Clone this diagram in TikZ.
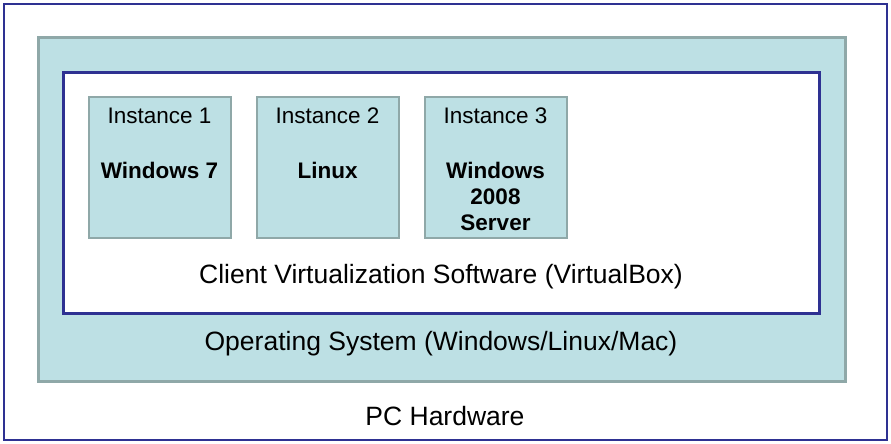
\documentclass[tikz,border=0pt]{standalone}
\usepackage{fontspec}
\setmainfont{Liberation Sans}
\definecolor{hwblue}{RGB}{46,49,146}
\definecolor{tealfill}{RGB}{189,224,228}
\definecolor{tealedge}{RGB}{143,168,168}
\begin{document}
\begin{tikzpicture}[x=1pt,y=-1pt,
  bluebox/.style={draw=hwblue,fill=white,line width=3pt,rectangle,inner sep=0pt},
  tealbox/.style={draw=tealedge,fill=tealfill,line width=3pt,rectangle,inner sep=0pt},
  lbl/.style={font=\fontsize{26.5}{30}\selectfont,anchor=center,inner sep=0pt},
  ilbl/.style={font=\fontsize{22.5}{26}\selectfont,anchor=center,inner sep=0pt,align=center},
  iname/.style={font=\fontsize{22.5}{26}\selectfont\bfseries,anchor=center,inner sep=0pt,align=center}]
\useasboundingbox[fill=white] (0,0) rectangle (891,444);
\node[bluebox,line width=2.8pt,minimum width=883pt,minimum height=436pt] (hw) at (445.5,222) {};
\node[tealbox,minimum width=807pt,minimum height=343pt] (os box) at (441.5,209.5) {};
\node[bluebox,minimum width=756pt,minimum height=241pt] (cvs box) at (441,192.5) {};
\node[tealbox,line width=2.5pt,minimum width=142pt,minimum height=141pt] (b1) at (160,167.5) {};
\node[tealbox,line width=2.5pt,minimum width=142pt,minimum height=141pt] (b2) at (328,167.5) {};
\node[tealbox,line width=2.5pt,minimum width=142pt,minimum height=141pt] (b3) at (496,167.5) {};
\node[ilbl] (i1) at (159.5,116) {Instance 1};
\node[ilbl] (i2) at (327.5,116) {Instance 2};
\node[ilbl] (i3) at (495.5,116) {Instance 3};
\node[iname] (n1) at (159.5,170) {Windows 7};
\node[iname] (n2) at (327.5,170) {Linux};
\node[iname,anchor=north] (n3) at (495.5,162) {Windows\\2008\\Server};
\node[lbl] (cvs) at (441,277) {Client Virtualization Software (VirtualBox)};
\node[lbl] (os) at (441,344) {Operating System (Windows/Linux/Mac)};
\node[lbl] (pc) at (445,416) {PC Hardware};
\end{tikzpicture}
\end{document}
